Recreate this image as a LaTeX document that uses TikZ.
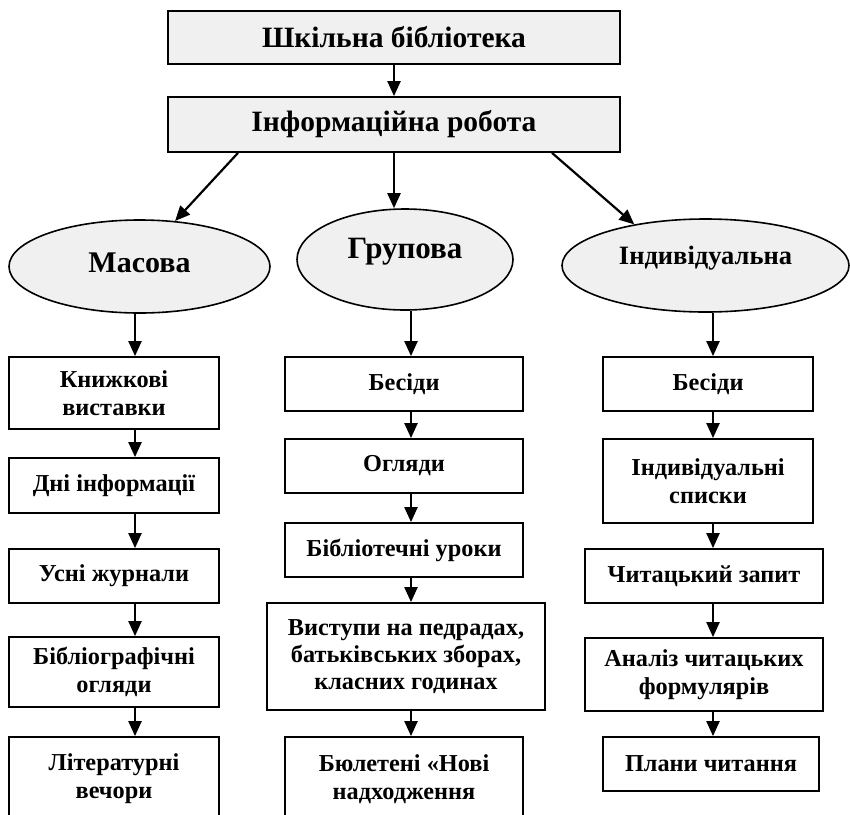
\documentclass[tikz,border=0pt]{standalone}
\usepackage{fontspec}
\setmainfont{Liberation Serif}
\usetikzlibrary{arrows.meta,shapes.geometric}
\definecolor{fillg}{RGB}{240,240,240}
\begin{document}
\begin{tikzpicture}[x=1pt,y=-1pt,
  box/.style={draw,line width=1.8pt,rectangle,inner sep=0pt,align=center,
    font=\bfseries\fontsize{24.3}{28}\selectfont},
  hbox/.style={draw,line width=1.8pt,fill=fillg,inner sep=0pt,
    font=\bfseries\fontsize{29.5}{33}\selectfont},
  ell/.style={draw,ellipse,line width=1.6pt,fill=fillg,inner sep=0pt},
  etext/.style={inner sep=0pt},
  arr/.style={line width=2.2pt,-{Triangle[width=13pt,length=15pt]}}
]
\useasboundingbox (0,0) rectangle (850,814);
\clip (0,0) rectangle (850,814);

% header boxes
\node[hbox,minimum width=452pt,minimum height=53pt] (b1) at (394,37.5) {Шкільна бібліотека};
\node[hbox,minimum width=452pt,minimum height=55pt] (b2) at (394,124.5) {Інформаційна робота};

% ellipses
\node[ell,minimum width=261pt,minimum height=93pt] (e1) at (139.5,266.5) {};
\node[etext,font=\bfseries\fontsize{30}{32}\selectfont] (t1) at ([yshift=4pt]e1.center) {Масова};
\node[ell,minimum width=216pt,minimum height=101pt] (e2) at (405,259.5) {};
\node[etext,font=\bfseries\fontsize{31}{33}\selectfont] (t2) at ([yshift=8pt]e2.center) {Групова};
\node[ell,minimum width=287pt,minimum height=93pt] (e3) at (705.5,265.5) {};
\node[etext,font=\bfseries\fontsize{26.5}{30}\selectfont] (t3) at ([yshift=7pt]e3.center) {Індивідуальна};

% left column
\node[box,minimum width=210pt,minimum height=72pt] (k1) at (114,393) {Книжкові\\виставки};
\node[box,minimum width=210pt,minimum height=55pt] (k2) at (114,485.5) {Дні інформації};
\node[box,minimum width=210pt,minimum height=54pt] (k3) at (114,576) {Усні журнали};
\node[box,minimum width=210pt,minimum height=70pt] (k4) at (114,672) {Бібліографічні\\огляди};
\node[box,minimum width=210pt,minimum height=84pt] (k5) at (114,779) {Літературні\\вечори};

% middle column
\node[box,minimum width=238pt,minimum height=54pt] (m1) at (404,384) {Бесіди};
\node[box,minimum width=238pt,minimum height=54pt] (m2) at (404,466) {Огляди};
\node[box,minimum width=238pt,minimum height=54pt] (m3) at (404,550) {Бібліотечні уроки};
\node[box,minimum width=278pt,minimum height=107pt,font=\bfseries\fontsize{24.3}{27}\selectfont] (m4) at (406,656.5) {Виступи на педрадах,\\батьківських зборах,\\класних годинах};
\node[box,minimum width=238pt,minimum height=84pt] (m5) at (404,779) {Бюлетені «Нові\\надходження};

% right column
\node[box,minimum width=210pt,minimum height=54pt] (r1) at (708,384) {Бесіди};
\node[box,minimum width=210pt,minimum height=84pt] (r2) at (708,481) {Індивідуальні\\списки};
\node[box,minimum width=238pt,minimum height=54pt] (r3) at (704,576) {Читацький запит};
\node[box,minimum width=238pt,minimum height=73pt] (r4) at (704,674.5) {Аналіз читацьких\\формулярів};
\node[box,minimum width=216pt,minimum height=54pt] (r5) at (711,764) {Плани читання};

% column axes
\coordinate (lx) at (135,0);
\coordinate (mx) at (411,0);
\coordinate (rx) at (713,0);

% top arrows
\draw[arr] (b1.south) -- (b2.north);
\draw[arr] ([xshift=-156pt]b2.south) -- (e1.52);
\draw[arr] (b2.south) -- (b2.south |- e2.north);
\draw[arr] ([xshift=158pt]b2.south) -- (e3.150);

% left arrows
\draw[arr] (e1.south -| lx) -- (k1.north -| lx);
\draw[arr] (k1.south -| lx) -- (k2.north -| lx);
\draw[arr] (k2.south -| lx) -- (k3.north -| lx);
\draw[arr] (k3.south -| lx) -- (k4.north -| lx);
\draw[arr] (k4.south -| lx) -- (k5.north -| lx);

% middle arrows
\draw[arr] (e2.south -| mx) -- (m1.north -| mx);
\draw[arr] (m1.south -| mx) -- (m2.north -| mx);
\draw[arr] (m2.south -| mx) -- (m3.north -| mx);
\draw[arr] (m3.south -| mx) -- (m4.north -| mx);
\draw[arr] (m4.south -| mx) -- (m5.north -| mx);

% right arrows
\draw[arr] (e3.south -| rx) -- (r1.north -| rx);
\draw[arr] (r1.south -| rx) -- (r2.north -| rx);
\draw[arr] (r2.south -| rx) -- (r3.north -| rx);
\draw[arr] (r3.south -| rx) -- (r4.north -| rx);
\draw[arr] (r4.south -| rx) -- (r5.north -| rx);
\end{tikzpicture}
\end{document}
